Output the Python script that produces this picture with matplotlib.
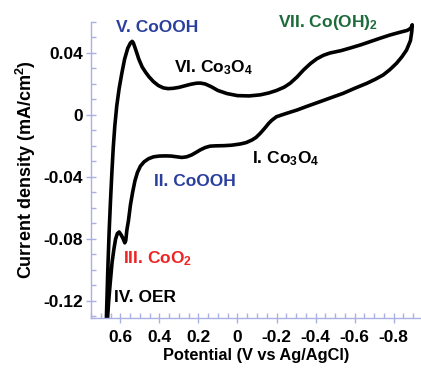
import matplotlib
matplotlib.use("Agg")
import matplotlib.pyplot as plt
import numpy as np

plt.rcParams['font.family'] = ['Liberation Sans', 'DejaVu Sans']
plt.rcParams['font.weight'] = 'bold'
plt.rcParams['mathtext.fontset'] = 'custom'
plt.rcParams['mathtext.rm'] = 'Liberation Sans:bold'
plt.rcParams['mathtext.bf'] = 'Liberation Sans:bold'
plt.rcParams['mathtext.it'] = 'Liberation Sans:bold'
plt.rcParams['mathtext.default'] = 'rm'

# CV loop: up the left edge, across the top to -0.9 V, back along the bottom
potential = [
    0.672, 0.664, 0.657, 0.650, 0.643, 0.636, 0.628, 0.618, 0.606, 0.592,
    0.578, 0.562, 0.548, 0.539, 0.533, 0.522, 0.505, 0.488, 0.470, 0.452,
    0.430, 0.405, 0.380, 0.355, 0.330, 0.300, 0.270, 0.240, 0.210, 0.190,
    0.165, 0.135, 0.100, 0.053, 0.0, -0.060, -0.117, -0.160, -0.200, -0.240,
    -0.270, -0.305, -0.338, -0.375, -0.407, -0.440, -0.474, -0.530, -0.577, -0.630,
    -0.679, -0.730, -0.781, -0.830, -0.870, -0.888, -0.895,
    -0.893, -0.886, -0.866, -0.842, -0.815, -0.780, -0.746, -0.705, -0.662, -0.600,
    -0.542, -0.480, -0.423, -0.365, -0.305, -0.250, -0.200, -0.175, -0.160, -0.140,
    -0.117, -0.095, -0.075, -0.045, -0.015, 0.030, 0.070, 0.110, 0.140, 0.165,
    0.190, 0.210, 0.235, 0.260, 0.285, 0.310, 0.340, 0.370, 0.400, 0.430,
    0.455, 0.478, 0.497, 0.512, 0.525, 0.537, 0.548, 0.558, 0.566, 0.572,
    0.577, 0.585, 0.595, 0.606, 0.615, 0.624, 0.632, 0.642, 0.652, 0.660, 0.667,
]
current = [
    -0.135, -0.100, -0.075, -0.055, -0.037, -0.021, -0.007, 0.006, 0.017, 0.027,
    0.036, 0.043, 0.0465, 0.0475, 0.0465, 0.0425, 0.036, 0.031, 0.0275, 0.0245,
    0.0215, 0.019, 0.0175, 0.017, 0.0172, 0.0178, 0.0188, 0.0198, 0.0205, 0.0206,
    0.0200, 0.0183, 0.0158, 0.0138, 0.0125, 0.0123, 0.0130, 0.0142, 0.0158, 0.018,
    0.0205, 0.0245, 0.029, 0.0333, 0.0363, 0.0385, 0.0400, 0.0415, 0.0432, 0.0452,
    0.0473, 0.0495, 0.0516, 0.0533, 0.0546, 0.0560, 0.0582,
    0.0540, 0.0480, 0.0419, 0.0375, 0.0334, 0.0292, 0.0258, 0.0230, 0.0204, 0.0172,
    0.0140, 0.0112, 0.0086, 0.0060, 0.0032, 0.0010, -0.0011, -0.0035, -0.0054, -0.0085,
    -0.0118, -0.0145, -0.0161, -0.0178, -0.0187, -0.0195, -0.0198, -0.0199, -0.0201, -0.0210,
    -0.0225, -0.0240, -0.0258, -0.0270, -0.0274, -0.0270, -0.0265, -0.0264, -0.0265, -0.0270,
    -0.0282, -0.0302, -0.0330, -0.0370, -0.0425, -0.0500, -0.0580, -0.0680, -0.0740, -0.0810,
    -0.0825, -0.0800, -0.0775, -0.0755, -0.0765, -0.0800, -0.0860, -0.0950, -0.1090, -0.1210, -0.1350,
]

xticks = [0.6, 0.4, 0.2, 0.0, -0.2, -0.4, -0.6, -0.8]
xtick_labels = ['0.6', '0.4', '0.2', '0', '-0.2', '-0.4', '-0.6', '-0.8']
yticks = [0.04, 0.0, -0.04, -0.08, -0.12]
ytick_labels = ['0.04', '0', '-0.04', '-0.08', '-0.12']

blue = '#2b3f9e'
green = '#1d6a3a'
red = '#ee2424'
axis_col = '#aab0e2'

fig = plt.figure(figsize=(4.21, 3.68), dpi=100)
ax = fig.add_axes([91/421, 50/368, 330/421, 296/368])

ax.plot(potential, current, color='black', lw=2.6, solid_joinstyle='round', solid_capstyle='butt')

ax.set_xlim(0.745, -0.94)
ax.set_ylim(-0.131, 0.06)

ax.set_xticks(xticks)
ax.set_xticklabels(xtick_labels)
ax.set_xticks(np.arange(-0.9, 0.76, 0.05), minor=True)
ax.set_yticks(yticks)
ax.set_yticklabels(ytick_labels)
ax.set_yticks(np.arange(-0.13, 0.061, 0.01), minor=True)

for s in ['top', 'right']:
    ax.spines[s].set_visible(False)
for s in ['left', 'bottom']:
    ax.spines[s].set_color(axis_col)
    ax.spines[s].set_linewidth(1.0)

ax.tick_params(which='major', direction='inout', length=7, width=1, color=axis_col,
               labelsize=12.5, labelcolor='black')
ax.tick_params(which='minor', direction='in', length=3.5, width=1, color=axis_col)
ax.tick_params(axis='x', which='major', pad=5.5)
ax.tick_params(axis='y', which='major', pad=2.2)

ax.set_xlabel('Potential (V vs Ag/AgCl)', fontsize=11.8, fontweight='bold', labelpad=2)
ax.set_ylabel('Current density (mA/cm$^{2}$)', fontsize=13, fontweight='bold', labelpad=4)

fs = 12.5
ax.text(0.622, 0.0535, 'V. CoOOH', color=blue, fontsize=fs, fontweight='bold', va='baseline')
ax.text(0.327, 0.0277, 'VI. Co$_{3}$O$_{4}$', color='black', fontsize=fs, fontweight='bold', va='baseline')
ax.text(-0.209, 0.0568, 'VII. Co(OH)$_{2}$', color=green, fontsize=fs, fontweight='bold', va='baseline')
ax.text(-0.0765, -0.031, 'I. Co$_{3}$O$_{4}$', color='black', fontsize=fs, fontweight='bold', va='baseline')
ax.text(0.429, -0.0458, 'II. CoOOH', color=blue, fontsize=fs, fontweight='bold', va='baseline')
ax.text(0.587, -0.0955, 'III. CoO$_{2}$', color=red, fontsize=fs, fontweight='bold', va='baseline')
ax.text(0.633, -0.1206, 'IV. OER', color='black', fontsize=fs, fontweight='bold', va='baseline')

fig.savefig('out.png', dpi=100)
